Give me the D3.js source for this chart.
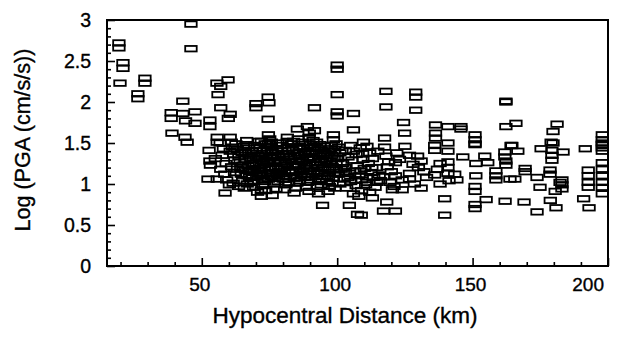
<!DOCTYPE html>
<html>
<head>
<meta charset="utf-8">
<script src="https://cdn.jsdelivr.net/npm/d3@7"></script>
<style>
html,body{margin:0;padding:0;background:#fff;}
svg{display:block;}
text{font-family:"Liberation Sans",Arial,Helvetica,sans-serif;fill:#000;stroke:#000;stroke-width:0.35px;}
</style>
</head>
<body>
<svg id="chart" width="626" height="337"></svg>
<script>
// Hypocentral distance (km), Log PGA (cm/s/s)
const nearField = [
  [19.4,2.72],[19.4,2.66],[20.9,2.48],[20.9,2.41],[19.8,2.23],[29,2.29],[29,2.23],
  [26.4,2.10],[26.4,2.04],[46,2.95],[46,2.65],[43,2.01],[38.7,1.87],[38.7,1.80],
  [43,1.86],[47.5,1.88],[44,1.77],[47.5,1.74],[39,1.62],[43.8,1.57],[44.6,1.51]
];
const upperScatter = [
  [53,1.78],[53,1.70],[55.6,2.23],[57,2.19],[59.7,2.27],[56,2.09],[57,1.93],[60.5,1.85],
  [59.8,1.80],[55.7,1.57],[55.7,1.51],[60.5,1.57],[60.9,1.51],[70,1.98],[70,1.93],
  [74.5,2.06],[74.8,1.99],[74.5,1.79],[74.6,1.60],[72,1.52],[75.7,1.51],
  [81.6,1.57],[85.3,1.67],[89,1.70],[89.7,1.62],[91.6,1.65],[91.6,1.93],[98.6,1.60],
  [98.6,1.54],[99.6,1.49],[100,2.45],[100,2.40],[100,2.09],[100,1.88],[100,1.83],
  [106,1.86],[106,1.66],[109.7,1.51],[118,2.13],[118,1.94],[129,2.12],[129,2.06],
  [129,1.90],[124.5,1.75],[124.9,1.62],[117.5,1.56],[136.3,1.72],[136.3,1.62],[136.3,1.56]
];
const farUpper = [
  [162.3,2.00],[162.3,2.01],[162.3,1.70],[166,1.74],[181.2,1.73],[179.7,1.64],
  [140.9,1.70],[145.7,1.70],[145.7,1.67],[150.9,1.60],[150.9,1.54],[150.9,1.48],
  [164.2,1.47],[179,1.51],[197.9,1.60],[197.9,1.54],[197.9,1.48]
];
const westCluster = [
  [52.7,1.41],[53,1.28],[53.2,1.23],[52.3,1.06],[55.7,1.06],[58.6,0.89],[56.8,1.50],
  [60.5,1.40],[57.5,1.35],[59,1.25],[57,1.18],[58.5,1.12],[55,1.31],[58,1.43],
  [59.2,1.05],[60.2,0.99],[61.3,1.45],[61.8,1.36],[62.2,1.29],[61,1.21],[62.1,1.14],
  [61.6,1.01],[66.8,1.00],[72,0.93],[72,0.85]
];
const coreCluster = [
  [62.6,1.49],[63.1,1.42],[63.7,1.33],[64.2,1.27],[63.2,1.18],[64.6,1.12],[65.1,1.04],
  [63.6,0.97],[65.4,1.46],[66.2,1.39],[65.2,1.23],[66.1,1.17],[65.7,0.95],
  [66.6,1.53],[67.2,1.44],[67.4,1.35],[68.1,1.30],[67.1,1.22],[68.6,1.14],[67.6,1.08],
  [68.2,1.02],[69.1,0.96],[69.6,1.47],[70.2,1.41],[69.1,1.32],[70.1,1.26],[69.4,1.18],
  [70.3,1.09],[69.2,1.04],[70.6,0.90],
  [71.1,1.52],[71.6,1.44],[72.2,1.37],[71.2,1.31],[72.6,1.24],[71.4,1.17],[72.1,1.11],
  [73.1,1.03],[72.6,0.98],[73.4,1.49],[74.1,1.40],[73.6,1.34],[74.2,1.26],[73.1,1.20],
  [74.3,1.13],[74.6,1.06],[73.6,0.92],
  [75.1,1.55],[75.6,1.46],[76.1,1.38],[75.2,1.32],[76.6,1.28],[75.4,1.21],[76.2,1.14],
  [77.1,1.07],[76.6,1.00],[77.4,0.94],[78.1,1.50],[77.6,1.42],[78.2,1.35],[77.1,1.25],
  [78.3,1.18],[77.7,1.11],[78.1,1.03],[76,0.86],
  [79.1,1.47],[79.6,1.40],[80.2,1.33],[79.2,1.27],[80.6,1.20],[79.4,1.13],[80.1,1.06],
  [81.1,0.99],[80.6,0.93],[81.6,1.52],[82.1,1.44],[81.2,1.37],[82.2,1.30],[81.6,1.23],
  [82.3,1.16],[81.1,1.09],[82.1,1.02],
  [83.1,1.49],[83.6,1.41],[84.2,1.34],[83.2,1.28],[84.6,1.21],[83.4,1.14],[84.1,1.07],
  [85.1,1.01],[84.6,0.95],[85.6,1.55],[86.1,1.46],[85.2,1.38],[86.2,1.31],[85.6,1.24],
  [86.3,1.17],[85.1,1.10],[86.1,1.04],[84.1,0.89],
  [87.1,1.51],[87.6,1.43],[88.2,1.36],[87.2,1.29],[88.6,1.22],[87.4,1.15],[88.1,1.08],
  [89.1,1.02],[88.6,0.96],[89.6,1.57],[90.1,1.48],[89.2,1.40],[90.2,1.33],[89.6,1.26],
  [90.3,1.19],[89.1,1.12],[90.1,1.05],[89.6,0.91],
  [91.1,1.53],[91.6,1.45],[92.2,1.38],[91.2,1.30],[92.6,1.23],[91.4,1.16],[92.1,1.09],
  [93.1,1.03],[92.6,0.97],[93.6,1.48],[94.1,1.41],[93.4,1.34],[94.2,1.27],[93.1,1.20],
  [94.3,1.13],[93.6,1.06],[94.1,0.99],[93.1,0.88],
  [95.1,1.46],[95.6,1.38],[96.2,1.31],[95.2,1.24],[96.6,1.17],[95.4,1.10],[96.1,1.03],
  [97.1,0.97],[96.6,0.91],[97.6,1.43],[98.1,1.35],[97.4,1.28],[98.2,1.21],[97.1,1.14],
  [98.6,1.07],[98.1,1.01],[99.1,0.95],[99.1,1.40],[99.6,1.26],[99.2,1.12]
];
const coreFill = [
  [64.9,1.38],[65.9,1.30],[64.4,1.20],[66.7,1.10],[68.4,1.40],[68.9,1.25],[67.9,1.17],
  [70.8,1.35],[71.9,1.22],[70.9,1.13],[72.9,1.41],[73.9,1.29],[72.4,1.07],[74.9,1.18],
  [75.8,1.41],[76.9,1.33],[77.3,1.19],[75.7,1.09],[78.8,1.29],[79.9,1.37],[78.7,1.15],
  [80.9,1.25],[80.4,1.10],[81.9,1.41],[82.8,1.33],[83.7,1.23],[82.6,1.09],[84.9,1.44],
  [85.9,1.35],[84.8,1.15],[86.8,1.27],[87.9,1.39],[86.7,1.12],[88.9,1.31],[87.8,1.19],
  [89.9,1.44],[90.8,1.37],[89.8,1.16],[91.9,1.26],[90.7,1.09],[92.9,1.43],[93.8,1.30],
  [92.8,1.14],[94.8,1.36],[95.9,1.28],[94.7,1.19],[96.9,1.40],[97.8,1.24],[96.8,1.09],
  [98.9,1.31],[99.7,1.17],[97.9,1.47],[66.3,1.48],[74.6,1.49],[83.9,1.52],[92.4,1.51]
];
const midCluster = [
  [100.5,1.45],[101,1.38],[100.2,1.31],[102,1.25],[101.5,1.18],[100.5,1.12],[102.5,1.06],
  [101,1.00],[103.5,0.95],[103,1.41],[104,1.33],[103,1.15],[104,1.08],
  [105,1.47],[106,1.40],[107,1.36],[105.5,1.29],[107.5,1.22],[106.5,1.16],[108,1.10],
  [105,1.03],[107,0.98],[109,0.92],[108.5,1.44],[109.5,1.30],[110,1.19],[109,1.05],
  [110.5,0.99],[106,0.88],[108,0.85],
  [111,1.46],[112,1.38],[113,1.31],[111.5,1.25],[112.5,1.14],[113.5,1.08],[111,1.02],
  [114,0.96],[112,0.90],[115,1.40],[114.5,1.20],[115.5,1.11],[116,1.04],[113,0.83],
  [117.5,1.45],[118,1.34],[119,1.27],[118.5,1.21],[120,1.15],[117,1.09],[119.5,1.02],
  [121,0.97],[122,1.38],[123,1.30],[121.5,1.10],[124,1.05],[120.4,0.93],[124,0.93],
  [121.5,1.26],[125,1.46],[126.7,1.35],[129.7,1.34],[126.7,1.13],[126.7,1.06],
  [128,1.24],[130,1.20],[131,1.28],[132,1.15],[133,1.08],[128.5,1.00],[131,0.95],
  [136,1.47],[136,1.41],[136,1.11],[138,1.25],[137,1.18],[138,1.00],
  [102.8,1.20],[104.6,1.13],[106.8,1.05],[108.8,1.16],[110.8,1.09],[112.8,1.20],
  [114.6,1.02],[109.4,1.37]
];
const farCluster = [
  [140.9,1.50],[140.9,1.40],[140.9,1.27],[140.9,1.20],[140.9,1.13],[141.3,1.04],
  [143.4,1.12],[144.2,1.05],[146.4,1.33],[150.9,1.49],[151.2,1.25],[151.2,1.10],
  [154.5,1.34],[155.6,1.26],[158.6,1.16],[158.6,1.10],[158.6,1.05],[161.9,1.39],
  [161.9,1.33],[162.3,1.28],[162.3,1.23],[163.8,1.06],[165.6,1.06],[164.5,1.47],
  [166.7,1.40],[169.4,1.19],[169.4,1.15],[173.8,1.08],[174.9,0.96],[175.3,1.43],
  [178.6,1.17],[178.6,1.12],[180.5,0.91],[182.3,1.02],[179.7,1.50],[179.3,1.41],
  [179.3,1.35],[179.3,1.29],[183.4,1.39],[183,1.05],[183,0.99],[183,0.94],[191.6,1.43],
  [192.7,1.17],[192.7,1.10],[192.7,1.02],[192.7,0.96],[197.9,1.50],[197.9,1.44],
  [197.9,1.40],[197.9,1.26],[197.9,1.18],[197.9,1.10],[197.9,1.02],[197.9,0.96],[197.9,0.88]
];
const lowerScatter = [
  [94.6,0.74],[104.5,0.74],[107.5,0.63],[108.9,0.62],[117.1,0.67],[121.5,0.67],[118.3,0.78],
  [139.7,0.62],[139.7,0.82],[150.9,0.75],[150.9,0.70],[150.9,0.97],[150.9,0.91],
  [155,0.81],[162,0.79],[169,0.78],[173.8,0.66],[178.7,0.80],[180.8,0.71],[191,0.82],
  [193,0.71]
];
const xTicks = [50,100,150,200];
const yTicks = [0,0.5,1,1.5,2,2.5,3];
const xTitle = "Hypocentral Distance (km)";
const yTitle = "Log (PGA (cm/s/s))";

const data = [].concat(nearField, upperScatter, farUpper, westCluster, coreCluster,
                       coreFill, midCluster, farCluster, lowerScatter);

const svg = d3.select("#chart");
const L = 107, R = 608, T = 20, B = 266;
const x = d3.scaleLinear().domain([15,200]).range([L,R]);
const y = d3.scaleLinear().domain([0,3]).range([B,T]);

// markers
const mw = 11.5, mh = 5.5;
svg.append("g").selectAll("rect").data(data).join("rect")
  .attr("x", d => x(d[0]) - mw/2)
  .attr("y", d => y(d[1]) - mh/2)
  .attr("width", mw).attr("height", mh)
  .attr("fill", "none").attr("stroke", "#000").attr("stroke-width", 1.8);

// frame
svg.append("rect").attr("x", L).attr("y", T).attr("width", R-L).attr("height", B-T)
  .attr("fill","none").attr("stroke","#000").attr("stroke-width",2);

// x axis (ticks inside)
const xAxis = d3.axisBottom(x).tickValues(d3.range(20,201,10)).tickSize(0).tickFormat("");
const gx = svg.append("g").attr("transform",`translate(0,${B})`).call(xAxis);
gx.select(".domain").remove();
gx.selectAll(".tick line").attr("y2", d => xTicks.includes(d) ? -8 : -4)
  .attr("stroke","#000").attr("stroke-width",1.6);
svg.append("g").selectAll("text").data(xTicks).join("text")
  .attr("x", d => d === 200 ? x(d) - 4 : x(d) - 2)
  .attr("y", 291)
  .attr("text-anchor", d => d === 200 ? "end" : "middle")
  .attr("font-size", 19)
  .text(d => d);

// y axis (ticks inside)
const yAxis = d3.axisLeft(y).tickValues(d3.range(0,31,1).map(v=>v/10)).tickSize(0).tickFormat("");
const gy = svg.append("g").attr("transform",`translate(${L},0)`).call(yAxis);
gy.select(".domain").remove();
gy.selectAll(".tick line").attr("x2", d => Math.abs(d*2 - Math.round(d*2))<1e-6 ? 8 : 4)
  .attr("stroke","#000").attr("stroke-width",1.6);
svg.append("g").selectAll("text").data(yTicks).join("text")
  .attr("x", 91)
  .attr("y", d => y(d) + 7)
  .attr("text-anchor","end")
  .attr("font-size", 19.5)
  .text(d => d);

// titles
svg.append("text").attr("x", 345).attr("y", 323)
  .attr("text-anchor","middle").attr("font-size",22.5).text(xTitle);
svg.append("text").attr("transform","translate(30,140) rotate(-90)")
  .attr("text-anchor","middle").attr("font-size",21.5).text(yTitle);
</script>
</body>
</html>
